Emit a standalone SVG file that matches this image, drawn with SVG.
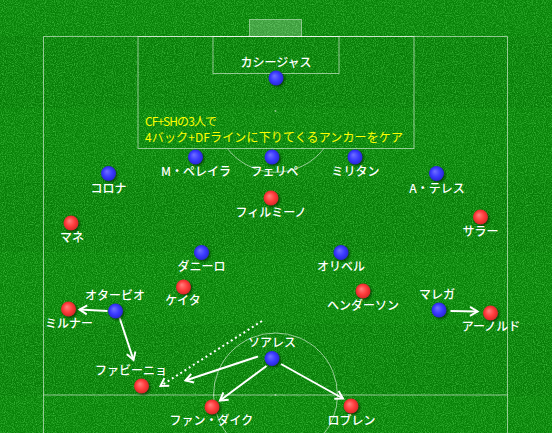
<svg xmlns="http://www.w3.org/2000/svg" width="552" height="433" viewBox="0 0 552 433">
<defs>
<filter id="noise" x="0" y="0" width="100%" height="100%">
<feTurbulence type="fractalNoise" baseFrequency="0.9" numOctaves="2" seed="4" result="t"/>
<feColorMatrix in="t" type="matrix" values="0 0 0 0 0.08  0 0 0 0 0.62  0 0 0 0 0.08  1.5 0 0 0 -0.6"/>
</filter>
<filter id="blur" x="-50%" y="-50%" width="200%" height="200%"><feGaussianBlur stdDeviation="1"/></filter>
<radialGradient id="gb" cx="50%" cy="50%" r="55%" fx="38%" fy="35%">
<stop offset="0" stop-color="#7070ff"/><stop offset="0.55" stop-color="#3a3aff"/><stop offset="1" stop-color="#2424c8"/>
</radialGradient>
<radialGradient id="gr" cx="50%" cy="50%" r="55%" fx="38%" fy="35%">
<stop offset="0" stop-color="#ff8080"/><stop offset="0.55" stop-color="#ff3c3c"/><stop offset="1" stop-color="#cc2424"/>
</radialGradient>
<marker id="ah" markerUnits="userSpaceOnUse" markerWidth="14" markerHeight="14" refX="9" refY="5" orient="auto" overflow="visible">
<path d="M1.5 0.5 L9 5 L1.5 9.5" fill="none" stroke="#fff" stroke-width="2"/>
</marker>
<style>
.ln{fill:none;stroke:#fff;stroke-opacity:0.55;stroke-width:1}
.sh{fill:#002a00;opacity:0.65;filter:url(#blur)}
.b{fill:url(#gb)}
.r{fill:url(#gr)}
.t{font-family:"Noto Sans CJK JP","Noto Sans",sans-serif;font-size:12px;font-weight:500;fill:#fff;text-anchor:middle}
.y{font-family:"Noto Sans CJK JP","Noto Sans",sans-serif;font-size:12px;fill:#ffff00}
.ar{fill:none;stroke:#fff;stroke-width:2;marker-end:url(#ah)}
</style>
</defs>
<rect width="552" height="433" fill="#078207"/>
<rect y="36" width="552" height="72" fill="#000" opacity="0.035"/>
<rect y="180" width="552" height="72" fill="#000" opacity="0.035"/>
<rect y="324" width="552" height="72" fill="#000" opacity="0.035"/>
<rect width="552" height="433" filter="url(#noise)"/>

<g id="pitch">
<rect x="249.5" y="19.5" width="52" height="17" fill="#fff" fill-opacity="0.22" stroke="#fff" stroke-opacity="0.45"/>
<path class="ln" d="M43.5 433 V36.5 H507.5 V433"/>
<rect class="ln" x="138" y="36.5" width="276" height="112"/>
<rect class="ln" x="213" y="36.5" width="126" height="37"/>
<path class="ln" d="M227.3 148.5 A61 61 0 0 0 323.9 148.5"/>
<line class="ln" x1="43.5" y1="395" x2="507.5" y2="395"/>
<circle class="ln" cx="275.5" cy="395" r="62"/>
<circle cx="275.5" cy="111" r="1" fill="#fff" fill-opacity="0.5"/>
<circle cx="275.5" cy="395" r="1" fill="#fff" fill-opacity="0.5"/>
</g>

<g id="note">
<text class="y" x="145" y="125.5" textLength="72" lengthAdjust="spacing">CF+SHの3人で</text>
<text class="y" x="145" y="141.5" textLength="258" lengthAdjust="spacing">4バック+DFラインに下りてくるアンカーをケア</text>
</g>

<g id="connectors">
<line class="ar" x1="107.5" y1="311" x2="79.5" y2="309.5"/>
<line class="ar" x1="119.5" y1="317.5" x2="133.5" y2="360"/>
<line class="ar" x1="450.5" y1="311" x2="477.5" y2="311.5"/>
<line class="ar" x1="258" y1="356.5" x2="185.5" y2="380.5"/>
<line class="ar" x1="266.5" y1="366" x2="220" y2="400.5"/>
<line class="ar" x1="281" y1="364" x2="343" y2="398.5"/>
<line class="ar" x1="262" y1="321" x2="160.5" y2="386" stroke-dasharray="2 3"/>
</g>

<g id="casillas"><circle class="sh" cx="277.5" cy="79.5" r="7.5"/><circle class="b" cx="276" cy="78" r="7.5"/><text class="t" x="276" y="67">カシージャス</text></g>
<g id="m-pereira"><circle class="sh" cx="197" cy="158.5" r="7.5"/><circle class="b" cx="195.5" cy="157" r="7.5"/><text class="t" x="196" y="176">M・ペレイラ</text></g>
<g id="felipe"><circle class="sh" cx="273.5" cy="158.5" r="7.5"/><circle class="b" cx="272" cy="157" r="7.5"/><text class="t" x="274.5" y="176">フェリペ</text></g>
<g id="militao"><circle class="sh" cx="356.5" cy="158.5" r="7.5"/><circle class="b" cx="355" cy="157" r="7.5"/><text class="t" x="355.5" y="176">ミリタン</text></g>
<g id="corona"><circle class="sh" cx="110" cy="175" r="7.5"/><circle class="b" cx="108.5" cy="173.5" r="7.5"/><text class="t" x="108.5" y="193">コロナ</text></g>
<g id="a-telles"><circle class="sh" cx="438" cy="175" r="7.5"/><circle class="b" cx="436.5" cy="173.5" r="7.5"/><text class="t" x="437" y="193">A・テレス</text></g>
<g id="danilo"><circle class="sh" cx="203" cy="254" r="7.5"/><circle class="b" cx="201.5" cy="252.5" r="7.5"/><text class="t" x="201.5" y="271">ダニーロ</text></g>
<g id="oliver"><circle class="sh" cx="342.5" cy="254" r="7.5"/><circle class="b" cx="341" cy="252.5" r="7.5"/><text class="t" x="341" y="271">オリベル</text></g>
<g id="otavio"><circle class="sh" cx="117" cy="312.5" r="7.5"/><circle class="b" cx="115.5" cy="311" r="7.5"/><text class="t" x="115" y="300">オタービオ</text></g>
<g id="marega"><circle class="sh" cx="440.5" cy="311.5" r="7.5"/><circle class="b" cx="439" cy="310" r="7.5"/><text class="t" x="437" y="299">マレガ</text></g>
<g id="soares"><circle class="sh" cx="273.5" cy="360" r="7.5"/><circle class="b" cx="272" cy="358.5" r="7.5"/><text class="t" x="272" y="347">ソアレス</text></g>

<g id="firmino"><circle class="sh" cx="272.5" cy="199.5" r="7.5"/><circle class="r" cx="271" cy="198" r="7.5"/><text class="t" x="271" y="216.5">フィルミーノ</text></g>
<g id="mane"><circle class="sh" cx="72.5" cy="224.5" r="7.5"/><circle class="r" cx="71" cy="223" r="7.5"/><text class="t" x="72" y="241.5">マネ</text></g>
<g id="salah"><circle class="sh" cx="482" cy="218.5" r="7.5"/><circle class="r" cx="480.5" cy="217" r="7.5"/><text class="t" x="480.5" y="235.5">サラー</text></g>
<g id="keita"><circle class="sh" cx="185" cy="288.5" r="7.5"/><circle class="r" cx="183.5" cy="287" r="7.5"/><text class="t" x="183" y="305">ケイタ</text></g>
<g id="henderson"><circle class="sh" cx="364.5" cy="292.5" r="7.5"/><circle class="r" cx="363" cy="291" r="7.5"/><text class="t" x="363" y="309.5">ヘンダーソン</text></g>
<g id="milner"><circle class="sh" cx="70" cy="310.5" r="7.5"/><circle class="r" cx="68.5" cy="309" r="7.5"/><text class="t" x="69" y="328">ミルナー</text></g>
<g id="arnold"><circle class="sh" cx="492" cy="314.5" r="7.5"/><circle class="r" cx="490.5" cy="313" r="7.5"/><text class="t" x="491" y="331">アーノルド</text></g>
<g id="fabinho"><circle class="sh" cx="143" cy="387.5" r="7.5"/><circle class="r" cx="141.5" cy="386" r="7.5"/><text class="t" x="131" y="375">ファビーニョ</text></g>
<g id="van-dijk"><circle class="sh" cx="213.5" cy="408.5" r="7.5"/><circle class="r" cx="212" cy="407" r="7.5"/><text class="t" x="211.5" y="424.5">ファン・ダイク</text></g>
<g id="lovren"><circle class="sh" cx="352.5" cy="407.5" r="7.5"/><circle class="r" cx="351" cy="406" r="7.5"/><text class="t" x="351.5" y="424.5">ロブレン</text></g>
</svg>
